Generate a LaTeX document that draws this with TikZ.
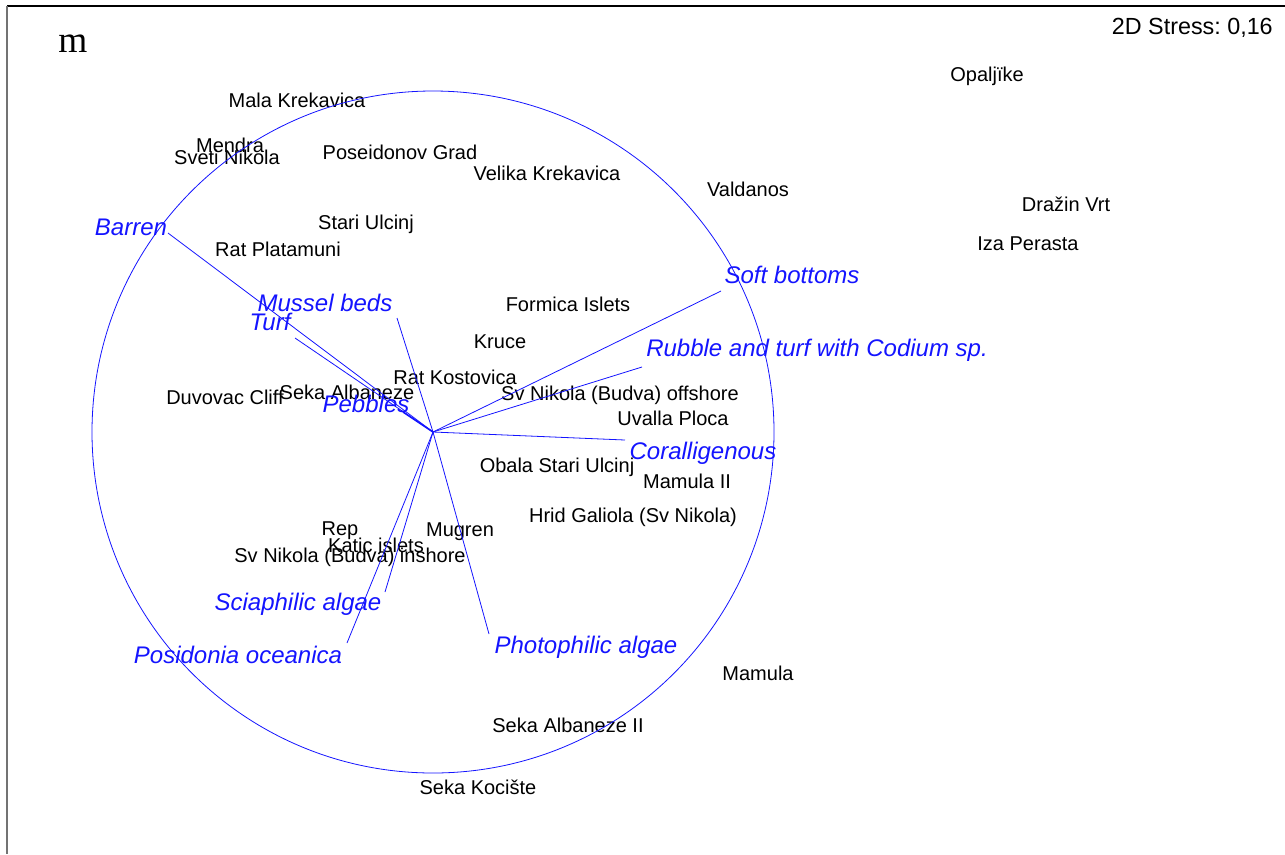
\documentclass[tikz,border=0pt]{standalone}
\usepackage{fontspec}
\setmainfont{Liberation Sans}
\newfontfamily\serifm{Liberation Serif}
\usepackage{tikz}
\usetikzlibrary{calc,positioning}
\definecolor{vecblue}{RGB}{20,20,255}
\frenchspacing
\tikzset{site/.style={inner sep=0,font=\fontsize{15}{17}\selectfont},
  habitat/.style={inner sep=0,text=vecblue,font=\fontsize{18}{20}\selectfont\itshape},
  vec/.style={vecblue,line width=0.6pt}}

\begin{document}
\begin{tikzpicture}[x=0.75pt,y=-0.75pt]

\useasboundingbox (0,0) rectangle (1285,854);

% Frame
\draw[line width=1.5pt] (7,6) -- (1285,6);
\draw[black!55,line width=1.5pt] (7,6) -- (7,854);

\node[font=\serifm\fontsize{28}{30}\selectfont] (panel) at (73,44) {m};
\node[inner sep=0,font=\fontsize{17.5}{19}\selectfont,anchor=east] (stress) at (1273,28) {2D Stress: 0,16};

% Sites
\node[site] (mala-krekavica) at (297,100) {Mala Krekavica};
\node[site] (mendra) at (230,145) {Mendra};
\node[site] (sveti-nikola) at (227,157) {Sveti Nikola};
\node[site] (poseidonov) at (400,152) {Poseidonov Grad};
\node[site] (velika-krekavica) at (547,173) {Velika Krekavica};
\node[site] (valdanos) at (748,189) {Valdanos};
\node[site] (opaljike) at (987,76) {Opaljïke};
\node[site] (drazin) at (1066,204) {Dražin Vrt};
\node[site] (iza-perasta) at (1028,244) {Iza Perasta};
\node[site] (stari-ulcinj) at (366,224) {Stari Ulcinj};
\node[site] (rat-platamuni) at (278,249) {Rat Platamuni};
\node[site] (formica) at (568,304) {Formica Islets};
\node[site] (kruce) at (500,342) {Kruce};
\node[site] (rat-kostovica) at (455,377) {Rat Kostovica};
\node[site] (seka-albaneze) at (347,392) {Seka Albaneze};
\node[site] (duvovac) at (225,397) {Duvovac Cliff};
\node[site] (sv-nikola-off) at (620,395) {Sv Nikola (Budva) offshore};
\node[site] (uvalla) at (673,418) {Uvalla Ploca};
\node[site] (obala) at (557,467) {Obala Stari Ulcinj};
\node[site] (mamula-ii) at (687,481) {Mamula II};
\node[site] (hrid) at (633,517) {Hrid Galiola (Sv Nikola)};
\node[site] (rep) at (340,531) {Rep};
\node[site] (mugren) at (460,532) {Mugren};
\node[site] (katic) at (376,545) {Katic islets};
\node[site] (sv-nikola-in) at (350,557) {Sv Nikola (Budva) inshore};
\node[site] (mamula) at (758,673) {Mamula};
\node[site] (seka-albaneze-ii) at (568,725) {Seka Albaneze II};
\node[site] (seka-kociste) at (478,787) {Seka Kocište};

% The correlation circle
\coordinate (origin) at (433,432);
\draw[vec] (origin) circle[radius=341];

% Vector ends
\coordinate (barren-end) at (168,233);
\coordinate (turf-end) at (295,338);
\coordinate (mussel-end) at (397,318);
\coordinate (pebbles-end) at (403,412);
\coordinate (soft-end) at (721,291);
\coordinate (rubble-end) at (642,367);
\coordinate (coral-end) at (625,440);
\coordinate (photo-end) at (489,634);
\coordinate (scia-end) at (385,592);
\coordinate (posidonia-end) at (347,643);

\foreach \e in {barren,turf,mussel,soft,rubble,coral,photo,scia,posidonia}
  \draw[vec] (origin) -- (\e-end);
\draw[vec,line width=1.2pt] (origin) -- (pebbles-end);

% Habitat labels
\node[habitat] (barren) at (131,227) {Barren};
\node[habitat] (mussel) at (325,303) {Mussel beds};
\node[habitat] (turf) at (270,322) {Turf};
\node[habitat] (pebbles) at (366,404) {Pebbles};
\node[habitat] (soft) at (792,275) {Soft bottoms};
\node[habitat] (rubble) at (817,350) {Rubble and turf with Codium sp.};
\node[habitat] (coral) at (703,453) {Coralligenous};
\node[habitat] (photo) at (586,647) {Photophilic algae};
\node[habitat] (scia) at (298,604) {Sciaphilic algae};
\node[habitat] (posidonia) at (238,655) {Posidonia oceanica};

\end{tikzpicture}
\end{document}
